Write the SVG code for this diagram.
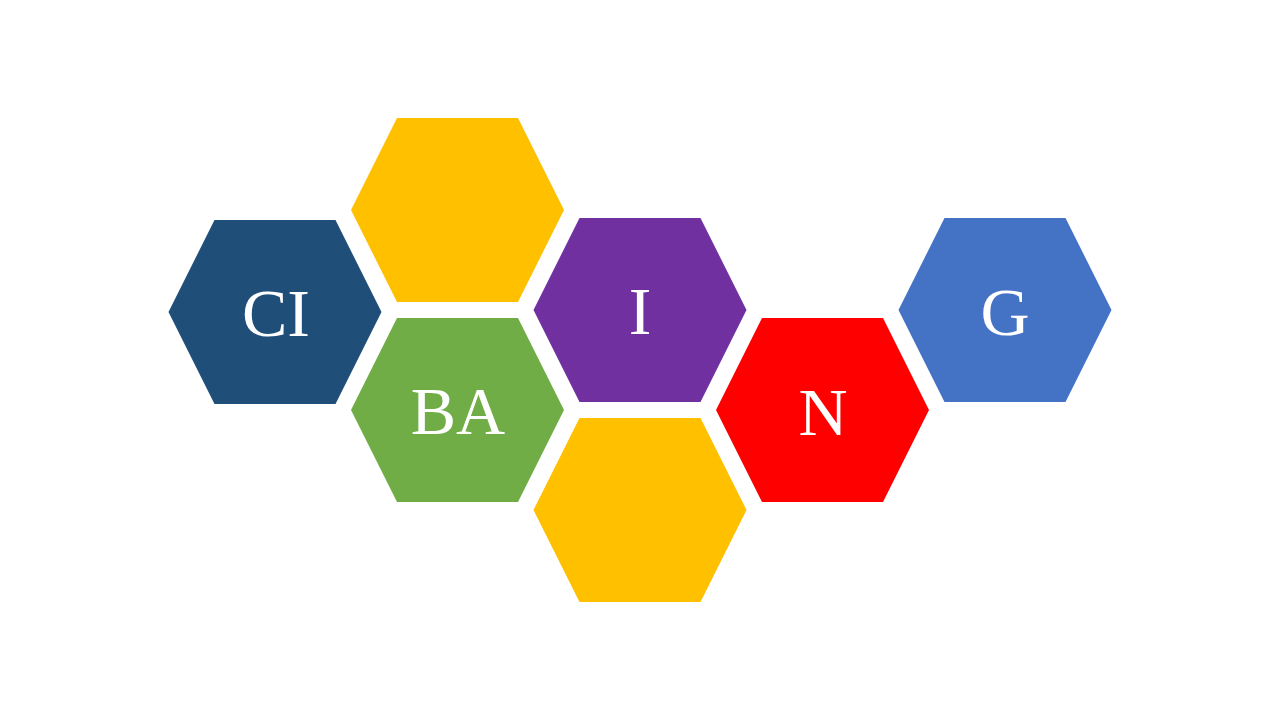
<svg xmlns="http://www.w3.org/2000/svg" xmlns:xlink="http://www.w3.org/1999/xlink" width="1280" height="720" viewBox="0 0 1280 720">
  <style>
    .lbl { font-family: "Liberation Serif", "DejaVu Serif", serif; font-size: 68px; fill: #FFFFFF; text-anchor: middle; }
  </style>
  <defs>
    <polygon id="hex" points="-106.5,0 -60.5,-92 60.5,-92 106.5,0 60.5,92 -60.5,92"/>
  </defs>
  <rect width="1280" height="720" fill="#FFFFFF"/>
  <g id="connectors"/>
  <g id="hex-ci">
    <use href="#hex" xlink:href="#hex" x="275" y="312" fill="#1F4E79"/>
    <text class="lbl" x="276" y="336">CI</text>
  </g>
  <g id="hex-yellow-top">
    <use href="#hex" xlink:href="#hex" x="457.5" y="210" fill="#FFC000"/>
  </g>
  <g id="hex-ba">
    <use href="#hex" xlink:href="#hex" x="457.5" y="410" fill="#70AD47"/>
    <text class="lbl" x="458" y="434">BA</text>
  </g>
  <g id="hex-i">
    <use href="#hex" xlink:href="#hex" x="640" y="310" fill="#7030A0"/>
    <text class="lbl" x="640" y="334">I</text>
  </g>
  <g id="hex-yellow-bottom">
    <use href="#hex" xlink:href="#hex" x="640" y="510" fill="#FFC000"/>
  </g>
  <g id="hex-n">
    <use href="#hex" xlink:href="#hex" x="822.5" y="410" fill="#FF0000"/>
    <text class="lbl" x="823" y="435">N</text>
  </g>
  <g id="hex-g">
    <use href="#hex" xlink:href="#hex" x="1005" y="310" fill="#4472C4"/>
    <text class="lbl" x="1005" y="335">G</text>
  </g>
</svg>
